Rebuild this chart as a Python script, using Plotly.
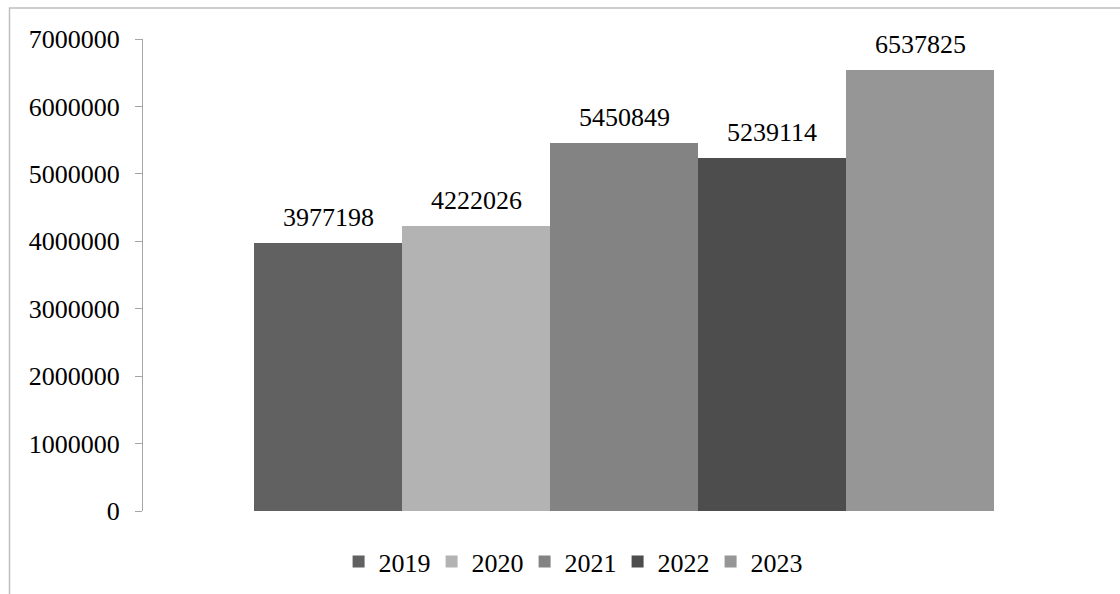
import plotly.graph_objects as go

years = ["2019", "2020", "2021", "2022", "2023"]
values = [3977198, 4222026, 5450849, 5239114, 6537825]
colors = ["#616161", "#b3b3b3", "#838383", "#4d4d4d", "#969696"]
y_ticks = [0, 1000000, 2000000, 3000000, 4000000, 5000000, 6000000, 7000000]

FONT = "Liberation Serif, Times New Roman, serif"

fig = go.Figure()
for yr, v, c in zip(years, values, colors):
    fig.add_trace(go.Bar(
        x=[yr], y=[v], name=yr,
        marker=dict(color=c, line=dict(width=0)),
        cliponaxis=False,
    ))

for i, (yr, v) in enumerate(zip(years, values)):
    fig.add_annotation(
        x=i, y=v, xref="x", yref="y", text=str(v), showarrow=False,
        xanchor="center", yanchor="bottom", yshift=9,
        font=dict(family=FONT, size=26, color="#000000"),
    )

fig.update_layout(
    width=1120, height=594,
    margin=dict(l=143, r=15, t=39, b=83, autoexpand=False),
    paper_bgcolor="white", plot_bgcolor="white",
    barmode="relative", bargap=0,
    font=dict(family=FONT, size=26, color="#000000"),
    showlegend=True,
    legend=dict(orientation="h", x=0.445, xanchor="center", y=-0.107, yanchor="middle",
                font=dict(family=FONT, size=26), itemwidth=30, traceorder="normal",
                entrywidth=48, entrywidthmode="pixels"),
    xaxis=dict(type="category", categoryorder="array", categoryarray=years,
               range=[-1.25, 5.25], showticklabels=False, showline=False,
               showgrid=False, zeroline=False, ticks=""),
    yaxis=dict(range=[0, 7000000], tickvals=y_ticks, ticktext=[str(t) for t in y_ticks],
               showline=True, linecolor="#a6a6a6", linewidth=1,
               ticks="outside", ticklen=7, tickcolor="#a6a6a6",
               showgrid=False, zeroline=False, ticklabelstandoff=10,
               tickfont=dict(family=FONT, size=26)),
)

fig.add_shape(type="rect", xref="paper", yref="paper",
              x0=(9.5 - 143) / 962, x1=1.5, y0=-0.5, y1=(511 - 8) / 472,
              line=dict(color="#bfbfbf", width=1.5), fillcolor="rgba(0,0,0,0)", layer="below")

fig.write_html("out.html")
